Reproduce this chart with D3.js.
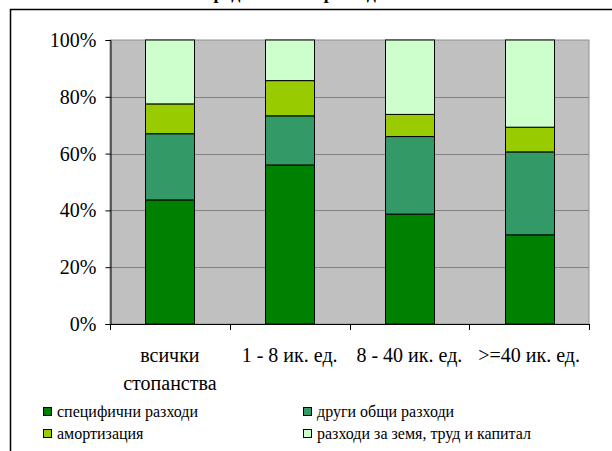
<!DOCTYPE html>
<html><head><meta charset="utf-8">
<script src="https://cdn.jsdelivr.net/npm/d3@7"></script>
<style>body{margin:0;background:#fff}svg{display:block}</style>
</head><body>
<svg id="c" width="612" height="451"></svg>
<script>
const categories = [["всички","стопанства"],["1 - 8 ик. ед."],["8 - 40 ик. ед."],[">=40 ик. ед."]];
const seriesNames = ["специфични разходи","други общи разходи","амортизация","разходи за земя, труд и капитал"];
const specific = [43.7, 56.0, 38.7, 31.4];
const otherGeneral = [23.3, 17.3, 27.3, 29.2];
const amort = [10.5, 12.4, 7.8, 8.7];
const landLabour = [22.5, 14.3, 26.2, 30.7];
const colors = ["#008000","#339966","#99CC00","#CCFFCC"];
const yTicks = [0,20,40,60,80,100];
const title = "Разпределение на разходите";

const FF = "Liberation Serif";
const svg = d3.select("#c");
const m = {l:110, r:589, t:40, b:324};
svg.append("path").attr("d","M10.5,451 V9.5 H612").attr("fill","none").attr("stroke","#000").attr("stroke-width",1.5);
svg.append("text").attr("x",176).attr("y",-1).attr("font-size",18).attr("font-weight","bold").attr("font-family",FF).text(title);

const x = d3.scaleBand().domain(d3.range(categories.length)).range([m.l,m.r]).paddingInner(0.59).paddingOuter(0.295);
const y = d3.scaleLinear().domain([0,100]).range([m.b,m.t]);

svg.append("rect").attr("x",m.l).attr("y",m.t).attr("width",m.r-m.l).attr("height",m.b-m.t).attr("fill","#C0C0C0").attr("stroke","#909090");
svg.append("g").selectAll("line").data(yTicks.slice(1,-1)).join("line")
  .attr("x1",m.l).attr("x2",m.r).attr("y1",d=>Math.round(y(d))+0.5).attr("y2",d=>Math.round(y(d))+0.5).attr("stroke","#808080");

const series = [specific, otherGeneral, amort, landLabour];
const rows = categories.map((c,i)=>({i, v: series.map(s=>s[i])}));
const stacked = d3.stack().keys([0,1,2,3]).value((d,k)=>d.v[k])(rows);
stacked.forEach((layer,k)=>{
  svg.append("g").selectAll("rect").data(layer).join("rect")
    .attr("x",d=>Math.round(x(d.data.i))+0.5).attr("width",Math.round(x.bandwidth()))
    .attr("y",d=>y(d[1])).attr("height",d=>y(d[0])-y(d[1]))
    .attr("fill",colors[k]).attr("stroke","#000").attr("stroke-width",1);
});

const ya = d3.axisLeft(y).tickValues(yTicks).tickSize(5).tickPadding(9).tickFormat(d=>d+"%");
const gy = svg.append("g").attr("transform",`translate(${m.l+0.5},0)`).call(ya);
gy.attr("font-family",FF).attr("font-size",20);
gy.selectAll("text").attr("fill","#000");
gy.select(".domain").attr("stroke","#000");
const xt = d3.scaleLinear().domain([0,categories.length]).range([m.l,m.r]);
svg.append("line").attr("x1",m.l).attr("x2",m.r).attr("y1",m.b+0.5).attr("y2",m.b+0.5).attr("stroke","#000");
svg.append("g").selectAll("line").data(d3.range(categories.length+1)).join("line")
  .attr("x1",d=>Math.round(xt(d))+0.5).attr("x2",d=>Math.round(xt(d))+0.5).attr("y1",m.b).attr("y2",m.b+6).attr("stroke","#000");
const xl = svg.append("g").selectAll("text").data(categories).join("text")
  .attr("x",(d,i)=>x(i)+x.bandwidth()/2).attr("y",362).attr("text-anchor","middle").attr("font-size",20).attr("font-family",FF);
xl.each(function(d){ const t=d3.select(this); t.selectAll("tspan").data(d).join("tspan").attr("x",t.attr("x")).attr("dy",(s,j)=>j?28:0).text(s=>s); });

const lx = [43, 303], ly = [407, 429];
seriesNames.forEach((n,k)=>{
  const gx = lx[k%2], gyy = ly[Math.floor(k/2)];
  svg.append("rect").attr("x",gx+0.5).attr("y",gyy+0.5).attr("width",8).attr("height",8).attr("fill",colors[k]).attr("stroke","#000");
  svg.append("text").attr("x",gx+14).attr("y",gyy+9.5).attr("font-size",16).attr("font-family",FF).text(n);
});
</script>
</body></html>
